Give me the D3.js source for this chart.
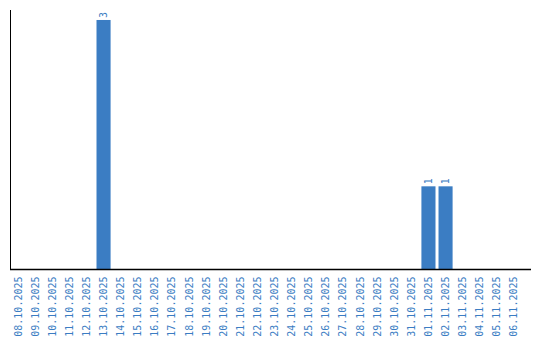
<!DOCTYPE html>
<html>
<head>
<meta charset="utf-8">
<script src="https://cdn.jsdelivr.net/npm/d3@7"></script>
<style>
  body { margin: 0; background: #fff; }
</style>
</head>
<body>
<div id="chart"></div>
<script>
const dates = [
  '08.10.2025', '09.10.2025', '10.10.2025', '11.10.2025', '12.10.2025',
  '13.10.2025', '14.10.2025', '15.10.2025', '16.10.2025', '17.10.2025',
  '18.10.2025', '19.10.2025', '20.10.2025', '21.10.2025', '22.10.2025',
  '23.10.2025', '24.10.2025', '25.10.2025', '26.10.2025', '27.10.2025',
  '28.10.2025', '29.10.2025', '30.10.2025', '31.10.2025', '01.11.2025',
  '02.11.2025', '03.11.2025', '04.11.2025', '05.11.2025', '06.11.2025'
];
const counts = [
  0, 0, 0, 0, 0, 3, 0, 0, 0, 0,
  0, 0, 0, 0, 0, 0, 0, 0, 0, 0,
  0, 0, 0, 0, 1, 1, 0, 0, 0, 0
];

const data = dates.map((d, i) => ({ date: d, value: counts[i] }));

const width = 540;
const height = 340;
const plotLeft = 11, plotRight = 531, plotTop = 10, baseline = 269.5;
const blue = '#3b7dc3';
const labelFont = "'DejaVu Sans Mono', 'Liberation Mono', monospace";

const svg = d3.select('#chart').append('svg')
  .attr('width', width)
  .attr('height', height)
  .style('font-family', labelFont);

const x = d3.scaleBand()
  .domain(dates)
  .range([plotLeft, plotLeft + dates.length * 17])
  .paddingInner(3 / 17)
  .paddingOuter(0);

const y = d3.scaleLinear()
  .domain([0, 3.12])
  .range([baseline, plotTop]);

// Bars
svg.append('g')
  .selectAll('rect')
  .data(data.filter(d => d.value > 0))
  .join('rect')
  .attr('x', d => x(d.date))
  .attr('y', d => y(d.value))
  .attr('width', x.bandwidth())
  .attr('height', d => baseline - y(d.value))
  .attr('fill', blue);

// Value labels
svg.append('g')
  .selectAll('text')
  .data(data.filter(d => d.value > 0))
  .join('text')
  .attr('transform', d => `translate(${x(d.date) + x.bandwidth() / 2 + 3.5},${y(d.value) - 2}) rotate(-90)`)
  .attr('text-anchor', 'start')
  .attr('font-size', '10px')
  .attr('fill', blue)
  .text(d => d.value);

// X axis
svg.append('g')
  .attr('transform', `translate(0,${baseline})`)
  .call(d3.axisBottom(x).tickSize(0).tickPadding(0))
  .call(g => g.select('.domain')
    .attr('d', `M${plotLeft - 1},0H${plotRight}`)
    .attr('stroke', '#000')
    .attr('stroke-width', 1.5))
  .call(g => g.selectAll('.tick text')
    .attr('transform', 'rotate(-90)')
    .attr('text-anchor', 'end')
    .attr('x', -7)
    .attr('y', 0)
    .attr('dy', '0.35em')
    .attr('font-size', '10px')
    .attr('font-family', labelFont)
    .attr('fill', blue));

// Y axis line
svg.append('line')
  .attr('x1', plotLeft - 0.5).attr('x2', plotLeft - 0.5)
  .attr('y1', plotTop).attr('y2', baseline)
  .attr('stroke', '#000')
  .attr('stroke-width', 1);
</script>
</body>
</html>
